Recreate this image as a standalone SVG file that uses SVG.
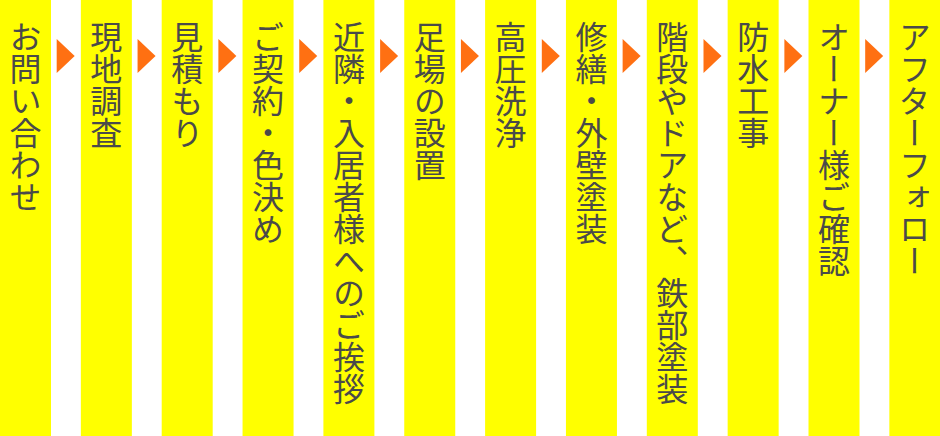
<svg xmlns="http://www.w3.org/2000/svg" width="940" height="436" viewBox="0 0 940 436">
<defs>
<style>
.col{fill:#ffff00}
.arr{fill:#ff7012}
.t{font-family:"Noto Sans CJK JP","Noto Sans",sans-serif;font-size:32px;fill:#4a4a4a;writing-mode:vertical-rl;text-anchor:start}
</style>
<polygon id="tri" points="0,0 18,17 0,34" class="arr"/>
</defs>
<g id="columns">
<g id="n1"><rect class="col" x="0" y="0" width="51" height="436"/><text class="t" x="25.5" y="21">お問い合わせ</text></g>
<g id="n2"><rect class="col" x="80.85" y="0" width="51" height="436"/><text class="t" x="106.35" y="21">現地調査</text></g>
<g id="n3"><rect class="col" x="161.7" y="0" width="51" height="436"/><text class="t" x="187.2" y="21">見積もり</text></g>
<g id="n4"><rect class="col" x="242.55" y="0" width="51" height="436"/><text class="t" x="268.05" y="21">ご契約・色決め</text></g>
<g id="n5"><rect class="col" x="323.4" y="0" width="51" height="436"/><text class="t" x="348.9" y="21">近隣・入居者様へのご挨拶</text></g>
<g id="n6"><rect class="col" x="404.25" y="0" width="51" height="436"/><text class="t" x="429.75" y="21">足場の設置</text></g>
<g id="n7"><rect class="col" x="485.1" y="0" width="51" height="436"/><text class="t" x="510.6" y="21">高圧洗浄</text></g>
<g id="n8"><rect class="col" x="565.95" y="0" width="51" height="436"/><text class="t" x="591.45" y="21">修繕・外壁塗装</text></g>
<g id="n9"><rect class="col" x="646.8" y="0" width="51" height="436"/><text class="t" x="672.3" y="21">階段やドアなど、鉄部塗装</text></g>
<g id="n10"><rect class="col" x="727.65" y="0" width="51" height="436"/><text class="t" x="753.15" y="21">防水工事</text></g>
<g id="n11"><rect class="col" x="808.5" y="0" width="51" height="436"/><text class="t" x="834" y="21">オーナー様ご確認</text></g>
<g id="n12"><rect class="col" x="889.35" y="0" width="51" height="436"/><text class="t" x="914.85" y="21">アフターフォロー</text></g>
</g>
<g id="connectors">
<use href="#tri" x="56.7" y="39"/>
<use href="#tri" x="137.55" y="39"/>
<use href="#tri" x="218.4" y="39"/>
<use href="#tri" x="299.25" y="39"/>
<use href="#tri" x="380.1" y="39"/>
<use href="#tri" x="460.95" y="39"/>
<use href="#tri" x="541.8" y="39"/>
<use href="#tri" x="622.65" y="39"/>
<use href="#tri" x="703.5" y="39"/>
<use href="#tri" x="784.35" y="39"/>
<use href="#tri" x="865.2" y="39"/>
</g>
</svg>
